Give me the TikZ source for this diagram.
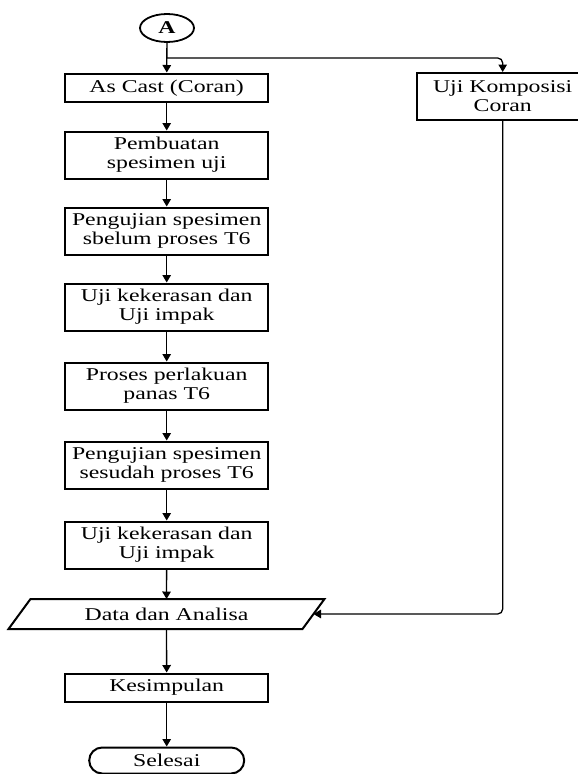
\documentclass[tikz,border=0pt]{standalone}
\usepackage{fontspec}
\setmainfont[FakeStretch=1.32]{Liberation Serif}
\usetikzlibrary{arrows.meta,shapes.geometric,shapes.misc}

\begin{document}
\begin{tikzpicture}[x=1pt, y=-1pt,
	procbox/.style={draw, rectangle, line width=2pt, minimum width=203pt, minimum height=47pt, inner sep=0pt, align=center, font=\fontsize{18}{19}\selectfont},
	arrowline/.style={line width=1.3pt, -{Triangle[length=7.5pt,width=8.5pt]}}]
	\useasboundingbox (0,0) rectangle (578,774);
	\node [draw, ellipse, line width=1.8pt, minimum width=54pt, minimum height=28pt, inner sep=0pt, font=\fontsize{18}{19}\selectfont\bfseries] (A) at (167,28) {A};
	\node [procbox, minimum height=28.5pt] (ascast) at (166.7,87.75) {As Cast (Coran)};
	\node [procbox] (buat) at (166.7,155) {Pembuatan\\spesimen uji};
	\node [procbox] (ujisblm) at (166.7,231) {Pengujian spesimen\\sbelum proses T6};
	\node [procbox] (keras1) at (166.7,307) {Uji kekerasan dan\\Uji impak};
	\node [procbox] (panas) at (166.7,386) {Proses perlakuan\\panas T6};
	\node [procbox] (ujisdh) at (166.7,465) {Pengujian spesimen\\sesudah proses T6};
	\node [procbox] (keras2) at (166.7,545) {Uji kekerasan dan\\Uji impak};
	\node [procbox, draw=none, minimum width=292pt, minimum height=28pt] (data) at (166.5,614) {Data dan Analisa};
	\draw [line width=2pt] ([xshift=11pt]data.north west) -- ([xshift=11pt]data.north east) -- ([xshift=-11pt]data.south east) -- ([xshift=-11pt]data.south west) -- cycle;
	\node [procbox, minimum height=28pt] (simpul) at (166.7,687.5) {Kesimpulan};
	\node [procbox, rounded rectangle, minimum width=155pt, minimum height=26pt] (selesai) at (166.7,760.5) {Selesai};
	\node [procbox, minimum width=172pt] (komp) at (502.7,96.5) {Uji Komposisi\\Coran};

	\coordinate (split) at (A.south |- 0,58);
	\draw [arrowline] (A) -- (ascast);
	\draw [arrowline, rounded corners=5pt] (split) -| (komp);
	\foreach \from/\to in {ascast/buat, buat/ujisblm, ujisblm/keras1, keras1/panas, panas/ujisdh, ujisdh/keras2, keras2/data, data/simpul, simpul/selesai}
		\draw [arrowline] (\from) -- (\to);
	\draw [arrowline, rounded corners=5pt] (komp) |- (data);
\end{tikzpicture}
\end{document}
